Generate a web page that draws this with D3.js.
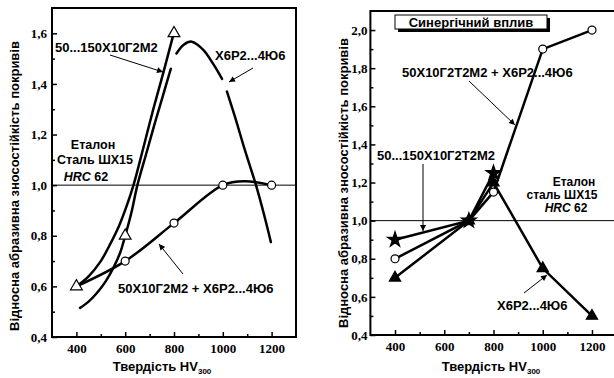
<!DOCTYPE html>
<html><head><meta charset="utf-8">
<script src="https://cdn.jsdelivr.net/npm/d3@7"></script>
<style>body{margin:0;background:#fff}svg{display:block}</style>
</head><body>
<svg id="c" width="614" height="378"></svg>
<script>
// ---------- DATA ----------
const xTicks = [400, 600, 800, 1000, 1200];
const xMinor = [500, 700, 900, 1100];
const yTicksL = [0.4, 0.6, 0.8, 1.0, 1.2, 1.4, 1.6];
const yMinorL = [0.5, 0.7, 0.9, 1.1, 1.3, 1.5];
const yTicksR = [0.4, 0.6, 0.8, 1.0, 1.2, 1.4, 1.6, 1.8, 2.0];
const yMinorR = [0.5, 0.7, 0.9, 1.1, 1.3, 1.5, 1.7, 1.9];

// left chart
const leftTriMarkers = [[400, 0.6], [600, 0.8], [800, 1.6]];
const leftCurveA = [[400, 0.6], [450, 0.64], [500, 0.7], [540, 0.77], [575, 0.84], [605, 0.915], [634, 1.0], [675, 1.15], [715, 1.3], [755, 1.44], [795, 1.586]];
const leftCurveB = [[415, 0.515], [450, 0.54], [484, 0.574], [520, 0.62], [555, 0.68], [580, 0.735], [600, 0.8], [625, 0.89], [650, 1.0], [685, 1.12], [720, 1.24], [755, 1.355], [787, 1.46]];
const leftCircMarkers = [[600, 0.7], [800, 0.85], [1000, 1.0], [1200, 1.0]];
const leftCurveC = [[400, 0.6], [600, 0.7], [800, 0.85], [1000, 1.0], [1090, 1.015], [1200, 1.0]];
const leftCurveD1 = [[810, 1.52], [840, 1.555], [873, 1.567], [920, 1.535], [960, 1.48], [997, 1.42]];
const leftCurveD2 = [[1017, 1.37], [1050, 1.27], [1090, 1.14], [1136, 1.0], [1170, 0.88], [1197, 0.775]];

// right chart
const rightStar = [[400, 0.9], [700, 1.0], [800, 1.25]];
const rightCirc = [[400, 0.8], [700, 1.0], [800, 1.15], [1000, 1.9], [1200, 2.0]];
const rightTri = [[400, 0.7], [700, 1.0], [800, 1.2], [1000, 0.75], [1200, 0.5]];

const yTitle = "Відносна абразивна зносостійкість покривів";

// ---------- DRAW ----------
const svg = d3.select("#c");
const fmt = d => d3.format(".1f")(d).replace(".", ",");
const defs = svg.append("defs");
defs.append("marker").attr("id", "ah").attr("viewBox", "0 0 10 10").attr("refX", 10).attr("refY", 5)
  .attr("markerWidth", 7).attr("markerHeight", 6).attr("markerUnits", "userSpaceOnUse").attr("orient", "auto")
  .append("path").attr("d", "M0,0 L10,5 L0,10 z").attr("fill", "#000");

function panel(x, y, yTicks, yMinor, labPad, xPad) {
  const g = svg.append("g");
  const x0 = x.range()[0], x1 = x.range()[1], y0 = y.range()[0], y1 = y.range()[1];
  g.append("line").attr("x1", x0).attr("x2", x1).attr("y1", y(1)).attr("y2", y(1))
    .attr("stroke", "#000").attr("stroke-width", 1);
  const ax = d3.axisBottom(x).tickValues(xTicks).tickSize(-5).tickSizeOuter(0).tickPadding(xPad).tickFormat(d3.format("d"));
  const axm = d3.axisBottom(x).tickValues(xMinor).tickSize(-3).tickSizeOuter(0).tickFormat("");
  const ay = d3.axisLeft(y).tickValues(yTicks).tickSize(-5).tickSizeOuter(0).tickPadding(labPad).tickFormat(fmt);
  const aym = d3.axisLeft(y).tickValues(yMinor).tickSize(-3).tickSizeOuter(0).tickFormat("");
  [[ax, "b"], [axm, "b"], [ay, "l"], [aym, "l"]].forEach(([a, s]) => {
    const ag = g.append("g").attr("transform", s === "b" ? `translate(0,${y0})` : `translate(${x0},0)`).call(a);
    ag.select(".domain").remove();
    ag.selectAll("line").attr("stroke", "#000").attr("stroke-width", 1.5);
    ag.selectAll("text").attr("font-family", "'Liberation Serif', serif").attr("font-weight", "bold")
      .attr("font-size", 13).attr("fill", "#000");
  });
  g.append("rect").attr("x", x0).attr("y", y1).attr("width", x1 - x0).attr("height", y0 - y1)
    .attr("fill", "none").attr("stroke", "#000").attr("stroke-width", 2);
  return g;
}

function curve(g, x, y, data, c, w) {
  g.append("path").datum(data).attr("fill", "none").attr("stroke", "#000").attr("stroke-width", w || 2.5)
    .attr("stroke-linecap", "round")
    .attr("d", d3.line().x(d => x(d[0])).y(d => y(d[1])).curve(c || d3.curveCatmullRom));
}
function markers(g, x, y, data, type, fill, size) {
  g.selectAll(null).data(data).enter().append("path")
    .attr("transform", d => `translate(${x(d[0])},${y(d[1])})`)
    .attr("d", d3.symbol().type(type).size(size))
    .attr("fill", fill).attr("stroke", "#000").attr("stroke-width", 1.2);
}
function label(txt, px, py, anchor, size, italicFirst) {
  const t = svg.append("text").attr("x", px).attr("y", py).attr("text-anchor", anchor || "start")
    .attr("font-family", "'Liberation Sans', Arial, sans-serif").attr("font-weight", "bold")
    .attr("font-size", size || 13).attr("fill", "#000");
  if (italicFirst) {
    t.append("tspan").attr("font-style", "italic").text(italicFirst);
    t.append("tspan").text(txt);
  } else t.text(txt);
  return t;
}
function arrow(x1, y1, x2, y2) {
  svg.append("line").attr("x1", x1).attr("y1", y1).attr("x2", x2).attr("y2", y2)
    .attr("stroke", "#000").attr("stroke-width", 1).attr("marker-end", "url(#ah)");
}
function xTitle(cx, cy) {
  const t = svg.append("text").attr("x", cx).attr("y", cy).attr("text-anchor", "middle")
    .attr("font-family", "'Liberation Sans', Arial, sans-serif").attr("font-weight", "bold").attr("font-size", 13);
  t.append("tspan").text("Твердість HV");
  t.append("tspan").attr("font-size", 8).attr("dy", 3).text("300");
}
function yTitleAt(cx, cy) {
  svg.append("text").attr("transform", `translate(${cx},${cy}) rotate(-90)`).attr("text-anchor", "middle")
    .attr("font-family", "'Liberation Sans', Arial, sans-serif").attr("font-weight", "bold").attr("font-size", 13)
    .text(yTitle);
}

// ---- left panel ----
const xL = d3.scaleLinear([300, 1300], [52, 296]);
const yL = d3.scaleLinear([0.4, 1.7], [337, 8]);
const gL = panel(xL, yL, yTicksL, yMinorL, 5, 7);
curve(gL, xL, yL, leftCurveA);
curve(gL, xL, yL, leftCurveB);
curve(gL, xL, yL, leftCurveC);
curve(gL, xL, yL, leftCurveD1);
curve(gL, xL, yL, leftCurveD2);
markers(gL, xL, yL, leftTriMarkers, d3.symbolTriangle, "#fff", 60);
markers(gL, xL, yL, leftCircMarkers, d3.symbolCircle, "#fff", 50);

label("50...150Х10Г2М2", 55, 52);
arrow(110, 55, 163, 72);
label("Х6Р2...4Ю6", 215, 60);
arrow(253, 68, 229, 82);
label("Еталон", 93, 149, "middle", 12.5);
label("Сталь ШХ15", 95, 164, "middle", 12.5);
label(" 62", 86, 181, "middle", 12.5, "HRC");
label("50Х10Г2М2 + Х6Р2...4Ю6", 118, 293);
arrow(183, 274, 159, 244);
xTitle(162, 371);
yTitleAt(19, 186);

// ---- right panel ----
const xR = d3.scaleLinear([300, 1300], [370.4, 616.6]);
const yR = d3.scaleLinear([0.4, 2.1], [335, 11]);
const gR = panel(xR, yR, yTicksR, yMinorR, 3, 7);
curve(gR, xR, yR, rightTri, d3.curveLinear, 2.5);
curve(gR, xR, yR, rightCirc, d3.curveLinear, 2.5);
curve(gR, xR, yR, rightStar, d3.curveLinear, 2.5);
markers(gR, xR, yR, rightTri, d3.symbolTriangle, "#000", 55);
markers(gR, xR, yR, rightCirc, d3.symbolCircle, "#fff", 50);
markers(gR, xR, yR, rightStar, d3.symbolStar, "#000", 70);

svg.append("rect").attr("x", 398).attr("y", 18).attr("width", 152).attr("height", 14).attr("fill", "#000");
svg.append("rect").attr("x", 395).attr("y", 15).attr("width", 152).attr("height", 14).attr("fill", "#fff")
  .attr("stroke", "#000").attr("stroke-width", 1);
label("Синергічний вплив", 471, 27, "middle");
label("50Х10Г2Т2М2 + Х6Р2...4Ю6", 402, 77);
arrow(469, 81, 515, 125);
label("50...150Х10Г2Т2М2", 377, 160);
arrow(423, 164, 423, 231);
label("Еталон", 574, 186, "middle", 12);
label("сталь ШХ15", 562, 199, "middle", 12);
label(" 62", 566, 212, "middle", 12, "HRC");
label("Х6Р2...4Ю6", 497, 310);
arrow(524, 293, 547, 275);
xTitle(491, 371);
yTitleAt(348, 183);
</script>
</body></html>
